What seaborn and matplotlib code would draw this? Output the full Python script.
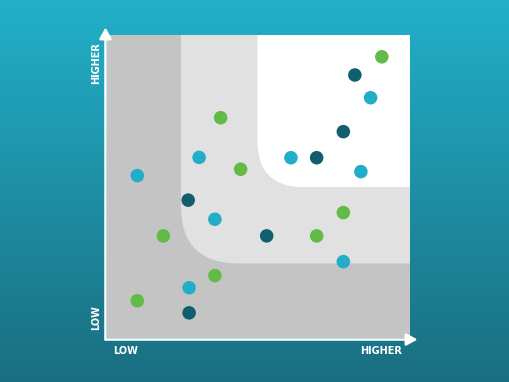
import numpy as np
import pandas as pd
import matplotlib
matplotlib.use("Agg")
import matplotlib.pyplot as plt
from matplotlib.patches import FancyBboxPatch, Rectangle
import seaborn as sns

# ---- data (0-100 scale on both axes) ----
x_vals = [90.7, 81.8, 87.0, 37.5, 78.0, 30.4, 60.7, 69.2, 44.1, 83.8, 10.0,
          26.8, 35.6, 78.0, 18.6, 52.7, 69.2, 78.0, 35.6, 27.1, 10.0, 27.1]
y_vals = [92.8, 86.8, 79.3, 72.7, 68.1, 59.6, 59.5, 59.5, 55.7, 54.9, 53.6,
          45.5, 39.2, 41.4, 33.7, 33.7, 33.7, 25.2, 20.6, 16.6, 12.3, 8.3]
groups = ["green", "dark", "cyan", "green", "dark", "cyan", "cyan", "dark", "green", "cyan", "cyan",
          "dark", "cyan", "green", "green", "dark", "green", "cyan", "green", "cyan", "green", "dark"]
x_labels = ["LOW", "HIGHER"]
y_labels = ["LOW", "HIGHER"]

palette = {"green": "#63bb47", "dark": "#115e6e", "cyan": "#22adc8"}

df = pd.DataFrame({"x": x_vals, "y": y_vals, "group": groups})

W, H, DPI = 510, 382, 100
fig = plt.figure(figsize=(W / DPI, H / DPI), dpi=DPI)

# background gradient
bg = fig.add_axes([0, 0, 1, 1])
top = np.array([34, 176, 201]) / 255
bot = np.array([26, 110, 128]) / 255
t = np.linspace(0, 1, 256)[:, None]
grad = (top[None, :] * (1 - t) + bot[None, :] * t)[:, None, :]
bg.imshow(grad, aspect="auto", extent=[0, 1, 0, 1])
bg.set_axis_off()

left, right, topp, bottom = 107, 410, 35, 338
ax = fig.add_axes([left / W, (H - bottom) / H, (right - left) / W, (bottom - topp) / H])
ax.set_facecolor("#c4c4c4")
ax.set_xlim(0, 100)
ax.set_ylim(0, 100)

# zones
ax.add_patch(FancyBboxPatch((24.4, 24.6), 120, 120,
                            boxstyle="round,pad=0,rounding_size=19",
                            fc="#e1e1e1", ec="none", zorder=0.5))
ax.add_patch(FancyBboxPatch((49.7, 49.8), 100, 100,
                            boxstyle="round,pad=0,rounding_size=15",
                            fc="#ffffff", ec="none", zorder=0.6))

sns.scatterplot(data=df, x="x", y="y", hue="group", palette=palette,
                s=95, linewidth=0, legend=False, ax=ax, zorder=3)

for s in ax.spines.values():
    s.set_visible(False)
ax.set_xticks([])
ax.set_yticks([])
ax.set_xlabel("")
ax.set_ylabel("")

# axes arrows
arrow_kw = dict(arrowstyle="-|>,head_length=0.55,head_width=0.3", lw=1.8,
                color="white", mutation_scale=12, shrinkA=0, shrinkB=0)
ax.annotate("", xy=(-0.5, 102.5), xytext=(-0.5, -0.5), arrowprops=arrow_kw,
            annotation_clip=False)
ax.annotate("", xy=(102.5, -0.5), xytext=(-0.5, -0.5), arrowprops=arrow_kw,
            annotation_clip=False)

fkw = dict(color="white", fontsize=7, fontweight="bold", family="DejaVu Sans",
           ha="center", va="center")
fig.text(126 / W, 1 - 351 / H, x_labels[0], **fkw)
fig.text(381 / W, 1 - 351 / H, x_labels[1], **fkw)
fig.text(96 / W, 1 - 318 / H, y_labels[0], rotation=90, **fkw)
fig.text(96 / W, 1 - 63 / H, y_labels[1], rotation=90, **fkw)

fig.savefig("out.png", dpi=DPI)
